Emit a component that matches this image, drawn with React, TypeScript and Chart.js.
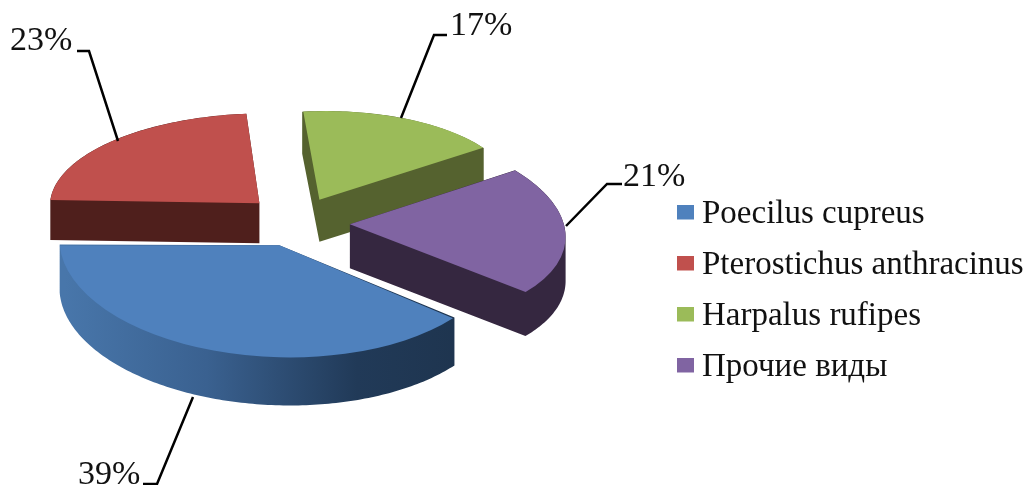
import React, { useEffect, useRef } from "react";
import { Chart, registerables } from "chart.js";

Chart.register(...registerables);

const categories = ["Poecilus cupreus", "Pterostichus anthracinus", "Harpalus rufipes", "Прочие виды"];
const shares = [39, 23, 17, 21];
const topColors = ["#4f81bd", "#c0504d", "#9bbb59", "#8064a2"];
const sideColors = ["#2a4a6e", "#4f1f1c", "#55622f", "#352740"];
const explosion = [46, 67, 63, 58];

// Per-slice projection of the flat pie onto the tilted plane.
const projections = [
  { sx: 0.92, skew: 0.045, tilt: 0, sy: 0.47, nudgeX: -2, nudgeY: 3, depth: 48 },
  { sx: 0.94, skew: -0.053, tilt: 0.012, sy: 0.404, nudgeX: 10, nudgeY: 0, depth: 40 },
  { sx: 0.86, skew: -0.027, tilt: 0, sy: 0.386, nudgeX: 2, nudgeY: 0, depth: 42 },
  { sx: 0.961, skew: 0.075, tilt: 0.022, sy: 0.445, nudgeX: 0, nudgeY: 0, depth: 44 },
];
const drawOrder = [2, 1, 3, 0];
const stage = { x: 294, y: 222 };
const leaders = [
  [[193, 397], [157, 484], [143, 484]],
  [[118, 141], [89, 51], [77, 51]],
  [[401, 118], [434, 35], [447, 35]],
  [[566, 226], [607, 184], [622, 184]],
];
const labelAnchors = [
  [78, 484],
  [10, 50],
  [450, 35],
  [623, 186],
];
const serif = '"Liberation Serif", "Times New Roman", serif';

function marker(color: string) {
  const c = document.createElement("canvas");
  c.width = 17;
  c.height = 19;
  const g = c.getContext("2d")!;
  g.fillStyle = color;
  g.fillRect(0, 0, 17, 15);
  return c;
}

// Outline of a slice taken from the library's own arc element, in page space.
function sliceOutline(arc: any, i: number) {
  const p = projections[i];
  const circ = arc.endAngle - arc.startAngle;
  const mid = (arc.startAngle + arc.endAngle) / 2;
  const off = (arc.options.offset || 0) / 4;
  const r = arc.outerRadius + off * (1 - Math.sin(Math.min(Math.PI, circ)));
  const ax = Math.cos(mid) * off;
  const ay = Math.sin(mid) * off;
  const toPage = (lx: number, ly: number) => [
    stage.x + p.nudgeX + p.sx * lx + p.skew * ly,
    stage.y + p.nudgeY + p.tilt * lx + p.sy * ly,
  ];
  const pts = [toPage(ax, ay)];
  const steps = Math.ceil(circ / (Math.PI / 180));
  for (let s = 0; s <= steps; s++) {
    const a = arc.startAngle + (circ * s) / steps;
    pts.push(toPage(ax + Math.cos(a) * r, ay + Math.sin(a) * r));
  }
  return pts;
}

function addPositive(ctx: any, poly: number[][]) {
  let area = 0;
  poly.forEach((q, j) => {
    const n = poly[(j + 1) % poly.length];
    area += q[0] * n[1] - n[0] * q[1];
  });
  const ordered = area >= 0 ? poly : [...poly].reverse();
  ordered.forEach((q, j) => (j ? ctx.lineTo(q[0], q[1]) : ctx.moveTo(q[0], q[1])));
  ctx.closePath();
}

const pie3d = {
  id: "pie3d",
  afterLayout(chart: any) {
    const l = chart.legend;
    const pad = l.options.labels.padding;
    const w = l.width;
    const h = l.height;
    l.left = 684.5 - pad;
    l.right = l.left + w;
    l.top = 214 - 16.5 - pad;
    l.bottom = l.top + h;
  },
  beforeDatasetsDraw(chart: any) {
    const ctx = chart.ctx;
    const arcs = chart.getDatasetMeta(0).data;
    for (const i of drawOrder) {
      const pts = sliceOutline(arcs[i], i);
      const depth = projections[i].depth;
      let fill: any = sideColors[i];
      if (i === 0) {
        // The front wall of the largest slice darkens from left to right.
        fill = ctx.createLinearGradient(65, 0, 470, 0);
        fill.addColorStop(0, "#4876aa");
        fill.addColorStop(0.35, "#3a6190");
        fill.addColorStop(0.72, "#213a58");
        fill.addColorStop(1, "#1e344e");
      }
      ctx.save();
      ctx.fillStyle = fill;
      ctx.beginPath();
      addPositive(ctx, pts);
      pts.forEach((q, j) => {
        const n = pts[(j + 1) % pts.length];
        addPositive(ctx, [q, n, [n[0], n[1] + depth], [q[0], q[1] + depth]]);
      });
      ctx.fill("nonzero");
      ctx.restore();
    }
    for (const i of drawOrder) {
      const arc = arcs[i];
      const p = projections[i];
      ctx.save();
      ctx.translate(stage.x + p.nudgeX, stage.y + p.nudgeY);
      ctx.transform(p.sx, p.tilt, p.skew, p.sy, 0, 0);
      ctx.translate(-arc.x, -arc.y);
      arc.draw(ctx);
      ctx.restore();
    }
    return false;
  },
  afterDraw(chart: any) {
    const ctx = chart.ctx;
    ctx.save();
    ctx.strokeStyle = "#000";
    ctx.lineWidth = 2.5;
    ctx.lineJoin = "miter";
    for (const line of leaders) {
      ctx.beginPath();
      line.forEach(([x, y], j) => (j ? ctx.lineTo(x, y) : ctx.moveTo(x, y)));
      ctx.stroke();
    }
    ctx.fillStyle = "#111";
    ctx.font = `34px ${serif}`;
    ctx.textAlign = "left";
    ctx.textBaseline = "alphabetic";
    shares.forEach((v, i) => ctx.fillText(`${v}%`, labelAnchors[i][0], labelAnchors[i][1]));
    ctx.restore();
  },
};

export default function App() {
  const ref = useRef<HTMLCanvasElement>(null);
  useEffect(() => {
    const chart = new Chart(ref.current!, {
      type: "pie",
      data: {
        labels: categories,
        datasets: [
          {
            data: shares,
            backgroundColor: topColors,
            borderWidth: 0,
            offset: explosion.map((o) => o * 4),
            radius: 222,
            rotation: 130,
          } as any,
        ],
      },
      options: {
        responsive: false,
        animation: false,
        plugins: {
          tooltip: { enabled: false },
          legend: {
            position: "right",
            align: "start",
            labels: {
              color: "#111",
              font: { family: serif, size: 33 },
              boxWidth: 1,
              padding: 18,
              usePointStyle: true,
              generateLabels: () =>
                categories.map((text, i) => ({
                  text,
                  index: i,
                  fontColor: "#111",
                  hidden: false,
                  pointStyle: marker(topColors[i]),
                  fillStyle: topColors[i],
                  lineWidth: 0,
                  strokeStyle: topColors[i],
                })),
            },
          },
        },
      },
      plugins: [pie3d],
    } as any);
    return () => chart.destroy();
  }, []);
  return (
    <canvas
      ref={ref}
      width={1027}
      height={485}
      style={{ position: "fixed", left: 0, top: 0, display: "block", background: "#fff" }}
    />
  );
}
